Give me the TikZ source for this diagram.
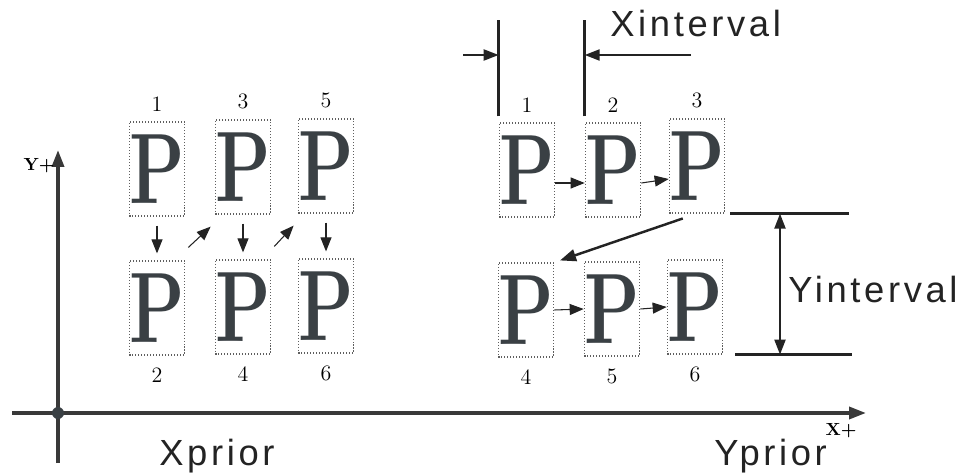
\documentclass[tikz,border=0pt]{standalone}
\usepackage{fontspec}
\usepackage{tikz}
\usetikzlibrary{arrows.meta,positioning,calc}
\newfontfamily\lblfont[LetterSpace=10]{Liberation Sans}
\definecolor{inkdark} {RGB}{35,  35,  35}
\definecolor{pgray}   {RGB}{58,  64,  68}
\definecolor{boxgray} {RGB}{95,  95,  95}
\newcommand\bigP{\scalebox{0.72}[1]{\fontsize{57}{57}\selectfont\bfseries P}}

\begin{document}
\begin{tikzpicture}[
  x=0.02cm,y=-0.02cm,
  pbox/.style={draw=boxgray,densely dotted,line width=0.7pt,text=pgray,
               minimum width=1.08cm,minimum height=1.88cm,inner sep=0pt},
  numlbl/.style={font=\fontsize{12.5}{14}\selectfont,inner sep=0pt},
  axlbl/.style={font=\fontsize{10}{12}\selectfont\bfseries,inner sep=0pt},
  bigtxt/.style={font=\lblfont\fontsize{20.7}{24}\selectfont,inner sep=0pt,
                 anchor=base west,text=inkdark},
  arr/.style={draw=inkdark,line width=0.6pt,-{Triangle[length=0.28cm,width=0.22cm]}},
  thickarr/.style={draw=inkdark,line width=1.4pt,-{Triangle[length=0.32cm,width=0.24cm]}},
  dimln/.style={draw=inkdark,line width=1.6pt},
  dimarr/.style={draw=inkdark,line width=1.2pt,-{Triangle[length=0.3cm,width=0.22cm]}},
  axis/.style={draw=inkdark!90,line width=2pt},
  dot/.style={circle,fill=pgray,minimum size=0.24cm,inner sep=0pt},
]
\useasboundingbox (0,0) rectangle (957,473);

%% Axes
\coordinate (ytop) at (58,150);
\coordinate (ybot) at (58,463);
\coordinate (xlft) at (12,413);
\coordinate (xrgt) at (866,413);
\draw[axis,-{Triangle[length=0.34cm,width=0.24cm]}] (ybot) -- (ytop);
\draw[axis,-{Triangle[length=0.34cm,width=0.24cm]}] (xlft) -- (xrgt);
\node[dot] (orig) at (58,413) {};
\node[axlbl] (ylbl) at (39,166) {Y+};
\node[axlbl] (xlbl) at (841,431) {X+};

%% X prior group (column order)
\node[pbox] (a1) at (157,169) {\bigP};
\node[pbox] (a3) at (243,167) {\bigP};
\node[pbox] (a5) at (326,166) {\bigP};
\node[pbox] (a2) at (157,308) {\bigP};
\node[pbox] (a4) at (243,307) {\bigP};
\node[pbox] (a6) at (326,306) {\bigP};
\foreach \n in {1,3,5} \node[numlbl,above=0.2cm of a\n] {\n};
\foreach \n in {2,4,6} \node[numlbl,below=0.24cm of a\n] {\n};
\draw[arr,shorten <=0.18cm,shorten >=0.14cm] (a1) -- (a2);
\draw[arr,shorten <=0.18cm,shorten >=0.14cm] (a3) -- (a4);
\draw[arr,shorten <=0.18cm,shorten >=0.14cm] (a5) -- (a6);
\draw[arr] ([xshift=0.06cm,yshift=0.26cm]a2.north east)
        -- ([xshift=-0.08cm,yshift=-0.24cm]a3.south west);
\draw[arr] ([xshift=0.06cm,yshift=0.26cm]a4.north east)
        -- ([xshift=-0.08cm,yshift=-0.24cm]a5.south west);

%% Y prior group (row order)
\node[pbox] (b1) at (527,170) {\bigP};
\node[pbox] (b2) at (613,170) {\bigP};
\node[pbox] (b3) at (697,166) {\bigP};
\node[pbox] (b4) at (526,310) {\bigP};
\node[pbox] (b5) at (612,309) {\bigP};
\node[pbox] (b6) at (695,307) {\bigP};
\foreach \n in {1,2,3} \node[numlbl,above=0.2cm of b\n] {\n};
\node[numlbl,below=0.24cm of b4] {4};
\node[numlbl,below=0.24cm of b5] {5};
\node[numlbl,below=0.24cm of b6] {6};
\draw[arr] ([yshift=-0.26cm]b1.east) -- ([yshift=-0.26cm]b2.west);
\draw[arr] ([yshift=-0.26cm]b2.east) -- ([yshift=-0.26cm]b3.west);
\draw[arr] (b4.east) -- (b5.west);
\draw[arr] (b5.east) -- (b6.west);
\draw[thickarr,shorten <=0.3cm,shorten >=0.12cm] (b3.south) -- (b4.north east);

%% X interval dimension
\draw[dimln] ([yshift=0.12cm]b1.north west) -- ([yshift=2.04cm]b1.north west);
\draw[dimln] ([yshift=0.12cm]b2.north west) -- ([yshift=2.04cm]b2.north west);
\coordinate (dl) at (463,55);
\coordinate (dr) at (691,55);
\draw[dimarr] (dl) -- (b1.north west |- dl);
\draw[dimarr] (dr) -- (b2.north west |- dr);
\node[bigtxt] (xint) at (610,37) {Xinterval};

%% Y interval dimension
\draw[dimln] ([xshift=0.1cm]b3.south east) -- ++(2.38cm,0);
\draw[dimln] ([xshift=0.24cm]b6.south east) -- ++(2.34cm,0);
\coordinate (yv) at (780,0);
\draw[draw=inkdark,line width=1.2pt,
      {Triangle[length=0.3cm,width=0.22cm]}-{Triangle[length=0.3cm,width=0.22cm]}]
  (yv |- b3.south) -- (yv |- b6.south);
\node[bigtxt] (yint) at (788,302) {Yinterval};

%% Captions
\node[bigtxt] (xpri) at (159,465) {Xprior};
\node[bigtxt] (ypri) at (714,465) {Yprior};

\end{tikzpicture}
\end{document}
